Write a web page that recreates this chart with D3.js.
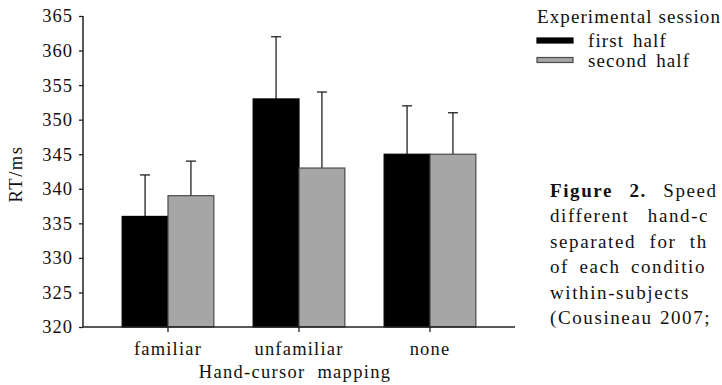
<!DOCTYPE html>
<html>
<head>
<meta charset="utf-8">
<script src="https://cdn.jsdelivr.net/npm/d3@7.9.0/dist/d3.min.js"></script>
<style>
  body { margin: 0; background: #fff; }
  svg { display: block; }
  text { font-family: "Liberation Serif", "Times New Roman", serif; fill: #111; }
</style>
</head>
<body>
<svg id="chart" width="722" height="385"></svg>
<script>
// data
const mappings = ['familiar', 'unfamiliar', 'none'];
const sessions = ['first half', 'second half'];
const firstHalf = [336, 353, 345];
const secondHalf = [339, 343, 345];
const firstHalfErr = [6, 9, 7];
const secondHalfErr = [5, 11, 6];
const yTicks = [320, 325, 330, 335, 340, 345, 350, 355, 360, 365];
// caption as far as it is visible in the source crop
const captionLines = [
  ['Figure 2.', 'Speed'],
  ['different', 'hand-c'],
  ['separated', 'for', 'th'],
  ['of', 'each', 'conditio'],
  ['within-subjects'],
  ['(Cousineau', '2007;']
];

const colors = { 'first half': '#000', 'second half': '#a6a6a6' };
const strokes = { 'first half': '#000', 'second half': '#4a4a4a' };

const rows = mappings.map((m, i) => ({
  mapping: m,
  values: [
    { session: sessions[0], value: firstHalf[i], err: firstHalfErr[i] },
    { session: sessions[1], value: secondHalf[i], err: secondHalfErr[i] }
  ]
}));

const svg = d3.select('#chart');
const axisLeft = 83, axisRight = 515;

const x = d3.scaleBand()
  .domain(mappings)
  .range([102.5, 495.5])
  .paddingInner(0.3)
  .paddingOuter(0.15);

const xInner = d3.scaleBand()
  .domain(sessions)
  .range([0, x.bandwidth()]);

const y = d3.scaleLinear().domain([320, 365]).range([327, 16]);

// bars
const groups = svg.append('g')
  .selectAll('g')
  .data(rows)
  .join('g')
  .attr('transform', d => `translate(${x(d.mapping)},0)`);

// error bars (upward only, drawn behind bars)
groups.selectAll('g.err')
  .data(d => d.values)
  .join('g')
  .attr('class', 'err')
  .each(function (d) {
    const g = d3.select(this);
    const cx = xInner(d.session) + xInner.bandwidth() / 2;
    g.append('line')
      .attr('x1', cx).attr('x2', cx)
      .attr('y1', y(d.value)).attr('y2', y(d.value + d.err))
      .attr('stroke', '#222').attr('stroke-width', 1.3);
    g.append('line')
      .attr('x1', cx - 5).attr('x2', cx + 5)
      .attr('y1', y(d.value + d.err)).attr('y2', y(d.value + d.err))
      .attr('stroke', '#222').attr('stroke-width', 1.3);
  });

groups.selectAll('rect')
  .data(d => d.values)
  .join('rect')
  .attr('x', d => xInner(d.session))
  .attr('y', d => y(d.value))
  .attr('width', xInner.bandwidth())
  .attr('height', d => y(320) - y(d.value))
  .attr('fill', d => colors[d.session])
  .attr('stroke', d => strokes[d.session])
  .attr('stroke-width', 1.2);

// y axis
const yAxis = svg.append('g')
  .attr('transform', `translate(${axisLeft},0)`)
  .call(d3.axisLeft(y).tickValues(yTicks).tickSize(4).tickPadding(6));
yAxis.select('.domain').remove();
yAxis.append('line')
  .attr('x1', 0).attr('x2', 0)
  .attr('y1', y(365)).attr('y2', y(320))
  .attr('stroke', '#222').attr('stroke-width', 1.5);
yAxis.selectAll('.tick line').attr('stroke', '#222').attr('stroke-width', 1.3);
yAxis.selectAll('.tick text')
  .style('font-family', '"Liberation Serif", serif')
  .style('font-size', '18.5px')
  .style('letter-spacing', '1px')
  .attr('fill', '#111');

// x axis
const xAxis = svg.append('g')
  .attr('transform', `translate(0,${y(320)})`)
  .call(d3.axisBottom(x).tickSize(5).tickPadding(10));
xAxis.select('.domain').remove();
xAxis.append('line')
  .attr('x1', axisLeft).attr('x2', axisRight)
  .attr('y1', 0).attr('y2', 0)
  .attr('stroke', '#222').attr('stroke-width', 1.5);
xAxis.selectAll('.tick line').attr('stroke', '#222').attr('stroke-width', 1.3);
xAxis.selectAll('.tick text')
  .style('font-family', '"Liberation Serif", serif')
  .style('font-size', '18.5px')
  .style('letter-spacing', '1.2px')
  .attr('fill', '#111');

// axis titles
svg.append('text')
  .attr('x', 295).attr('y', 378)
  .attr('text-anchor', 'middle')
  .style('font-size', '18.5px')
  .style('letter-spacing', '1.3px')
  .style('word-spacing', '6px')
  .text('Hand-cursor mapping');

svg.append('text')
  .attr('transform', 'translate(22,174) rotate(-90)')
  .attr('text-anchor', 'middle')
  .style('font-size', '18.5px')
  .style('letter-spacing', '1.5px')
  .text('RT/ms');

// legend
const legend = svg.append('g').attr('transform', 'translate(537,0)');
legend.append('text')
  .attr('x', 0).attr('y', 23)
  .style('font-size', '19px')
  .style('letter-spacing', '1.1px')
  .text('Experimental session');
const li = legend.selectAll('g.item')
  .data(sessions)
  .join('g')
  .attr('class', 'item')
  .attr('transform', (d, i) => `translate(0,${38 + i * 19.5})`);
li.append('rect')
  .attr('width', 36).attr('height', 5)
  .attr('fill', d => colors[d])
  .attr('stroke', d => strokes[d])
  .attr('stroke-width', 1.2);
li.append('text')
  .attr('x', 51).attr('y', 9)
  .style('font-size', '19px')
  .style('letter-spacing', '1.1px')
  .style('word-spacing', '3px')
  .text(d => d);

// caption, cut at the right edge like the source
const wordGap = [10, 12, 7, 4, 0, 1];
const caption = svg.append('g').attr('transform', 'translate(550,0)');
captionLines.forEach((words, i) => {
  const t = caption.append('text')
    .attr('x', 0).attr('y', 197 + i * 25.4)
    .style('font-size', '19px')
    .style('letter-spacing', '1.6px')
    .style('word-spacing', wordGap[i] + 'px');
  words.forEach((w, j) => {
    t.append('tspan')
      .style('font-weight', i === 0 && j === 0 ? 'bold' : 'normal')
      .text((j > 0 ? ' ' : '') + w);
  });
});
</script>
</body>
</html>
